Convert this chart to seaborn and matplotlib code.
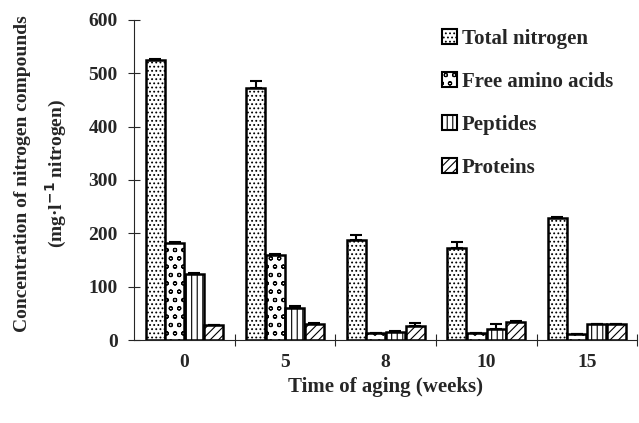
import pandas as pd
import matplotlib
matplotlib.use("Agg")
import matplotlib.pyplot as plt
import seaborn as sns
from matplotlib.patches import Patch

# Values
weeks = ["0", "5", "8", "10", "15"]
compounds = ["Total nitrogen", "Free amino acids", "Peptides", "Proteins"]
total_nitrogen = [525, 472, 187, 173, 229]
free_amino_acids = [182, 159, 13, 13, 11]
peptides = [124, 60, 16, 21, 30]
proteins = [28, 31, 26, 34, 30]
err_total = [2, 13, 10, 10, 2]
err_free = [2, 3, 1, 1, 1]
err_pept = [2, 3, 1, 10, 1]
err_prot = [1, 1, 6, 1, 1]

hatches = ["....", "oo", "|||", "////"]


def build_frame():
    rows = []
    series = [total_nitrogen, free_amino_acids, peptides, proteins]
    for name, vals in zip(compounds, series):
        for w, v in zip(weeks, vals):
            rows.append({"Week": w, "Compound": name, "Value": v})
    return pd.DataFrame(rows)


def main():
    df = build_frame()
    sns.set_theme(style="ticks")
    plt.rcParams["font.family"] = ["Liberation Serif", "DejaVu Serif"]
    plt.rcParams["font.weight"] = "bold"
    plt.rcParams["hatch.linewidth"] = 0.8

    fig = plt.figure(figsize=(6.39, 4.23), dpi=100)
    ax = fig.add_axes([0.21, 0.196, 0.787, 0.757])

    sns.barplot(data=df, x="Week", y="Value", hue="Compound", order=weeks,
                hue_order=compounds, color="white", edgecolor="black",
                linewidth=1.8, width=0.78, gap=0.03, errorbar=None,
                legend=False, ax=ax)

    errs = [err_total, err_free, err_pept, err_prot]
    for cont, hatch, err in zip(ax.containers, hatches, errs):
        xs, ys = [], []
        for bar in cont:
            bar.set_facecolor("white")
            bar.set_hatch(hatch)
            xs.append(bar.get_x() + bar.get_width() / 2)
            ys.append(bar.get_height())
        ax.errorbar(xs, ys, yerr=[[0] * len(err), err], fmt="none",
                    ecolor="black", elinewidth=1.5, capsize=4, capthick=1.5)

    ax.set_xlim(-0.5, 4.5)
    ax.set_ylim(0, 600)
    ax.set_yticks([0, 100, 200, 300, 400, 500, 600])
    ax.set_xticks([0.5, 1.5, 2.5, 3.5, 4.5], minor=True)
    ax.tick_params(axis="x", which="major", length=0, pad=10, labelsize=14)
    ax.tick_params(axis="x", which="minor", direction="inout", length=8, width=0.8)
    ax.tick_params(axis="y", direction="inout", length=8, width=0.8, labelsize=14, pad=8)
    for lab in ax.get_xticklabels() + ax.get_yticklabels():
        lab.set_fontweight("bold")
    sns.despine(ax=ax)
    for sp in ax.spines.values():
        sp.set_linewidth(0.8)

    ax.set_xlabel("Time of aging (weeks)", fontsize=15, fontweight="bold", labelpad=4)
    ax.set_ylabel("")
    fig.text(0.035, 0.59, "Concentration of nitrogen compounds", rotation=90,
             ha="center", va="center", fontsize=14, fontweight="bold")
    fig.text(0.088, 0.59, "(mg·l$^{\\mathbf{-1}}$ nitrogen)", rotation=90,
             ha="center", va="center", fontsize=14, fontweight="bold")

    handles = [Patch(facecolor="white", edgecolor="black", hatch=h, linewidth=1.5)
               for h in hatches]
    leg = ax.legend(handles, compounds, loc="upper left", bbox_to_anchor=(0.575, 1.03),
                    frameon=False, fontsize=15, handlelength=0.7, handleheight=0.7,
                    handletextpad=0.25, labelspacing=1.1)
    for t in leg.get_texts():
        t.set_fontweight("bold")

    fig.savefig("out.png", dpi=100)
    plt.close(fig)


if __name__ == "__main__":
    main()
